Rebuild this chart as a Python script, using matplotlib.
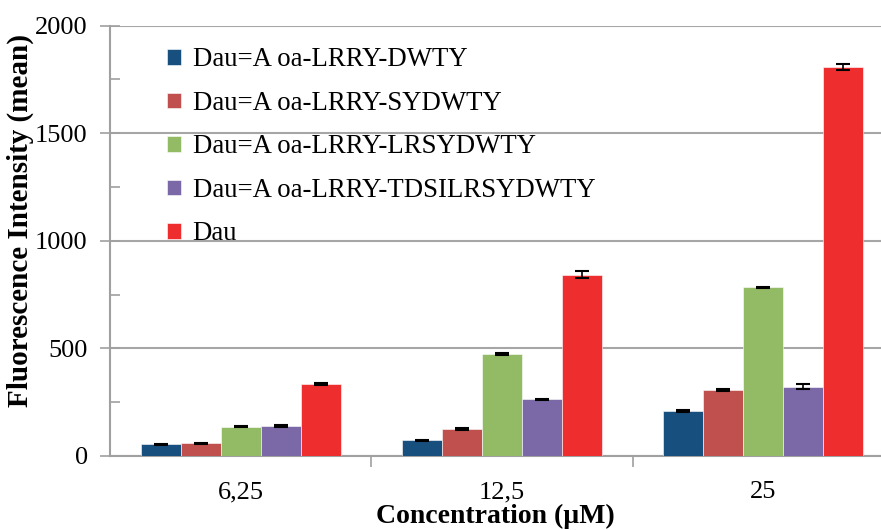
import matplotlib
matplotlib.use('Agg')
import numpy as np
import matplotlib.pyplot as plt
from matplotlib.ticker import MultipleLocator

# data
concs = ['6,25', '12,5', '25']
series = ['Dau=A oa-LRRY-DWTY', 'Dau=A oa-LRRY-SYDWTY', 'Dau=A oa-LRRY-LRSYDWTY',
          'Dau=A oa-LRRY-TDSILRSYDWTY', 'Dau']
dwty = [55, 73, 209]
sydwty = [59, 125, 305]
lrsydwty = [137, 473, 783]
tdsil = [140, 263, 322]
dau = [335, 842, 1806]
err_dwty = [3, 3, 4]
err_sydwty = [3, 4, 5]
err_lrsydwty = [3, 5, 3]
err_tdsil = [3, 2, 12]
err_dau = [4, 16, 13]

vals = [dwty, sydwty, lrsydwty, tdsil, dau]
errs = [err_dwty, err_sydwty, err_lrsydwty, err_tdsil, err_dau]
colors = ['#17507f', '#c0504d', '#93ba64', '#7b68a6', '#ee2e2e']

FAM = ['Liberation Serif', 'DejaVu Serif']
plt.rcParams['font.family'] = FAM

fig = plt.figure(figsize=(8.81, 5.30), dpi=100)
ax = fig.add_axes([110/881, 1 - 456/530, 1 - 110/881, (456 - 25.5)/530])

x = np.arange(len(concs))
w = 0.153
for i in range(len(series)):
    ax.bar(x + (i - 2) * w, vals[i], w, color=colors[i], label=series[i],
           edgecolor='white', linewidth=0.4, zorder=3,
           yerr=errs[i], error_kw=dict(ecolor='black', elinewidth=1.2, capsize=5, capthick=1.5, zorder=4))

ax.set_ylim(0, 2000)
ax.set_xlim(-0.5, 2.45)
ax.yaxis.set_major_locator(MultipleLocator(500))
ax.yaxis.set_minor_locator(MultipleLocator(250))
ax.grid(axis='y', color='#a6a6a6', linewidth=1.5, zorder=0)

gc = '#a0a0a0'
for s in ['top', 'right']:
    ax.spines[s].set_visible(False)
for s in ['left', 'bottom']:
    ax.spines[s].set_color(gc)
    ax.spines[s].set_linewidth(1.5)

ax.tick_params(axis='y', which='major', direction='inout', length=14, width=1.2, color=gc,
               labelsize=19, pad=9)
ax.tick_params(axis='y', which='minor', direction='in', length=7, width=1.2, color=gc)
ax.set_xticks(x)
ax.set_xticklabels(concs)
ax.tick_params(axis='x', which='major', length=0, labelsize=19, pad=18)
ax.set_xticks([0.5, 1.5], minor=True)
ax.tick_params(axis='x', which='minor', direction='out', length=8, width=1.2, color=gc)
for lab in ax.get_xticklabels() + ax.get_yticklabels():
    lab.set_family(FAM)

ax.set_ylabel('Fluorescence Intensity (mean)', fontsize=21, fontweight='bold', family=FAM)
ax.yaxis.set_label_coords(-0.098, 0.548)
ax.set_xlabel('Concentration (\u00b5M)', fontsize=20, fontweight='bold', family=FAM)
ax.xaxis.set_label_coords(0.5, -0.11)

ax.legend(loc='upper left', bbox_to_anchor=(0.043, 1.005), frameon=False,
          prop={'family': FAM, 'size': 19.3},
          handlelength=0.5, handleheight=0.5, handletextpad=0.45, labelspacing=0.69)

fig.savefig('out.png', dpi=100)
